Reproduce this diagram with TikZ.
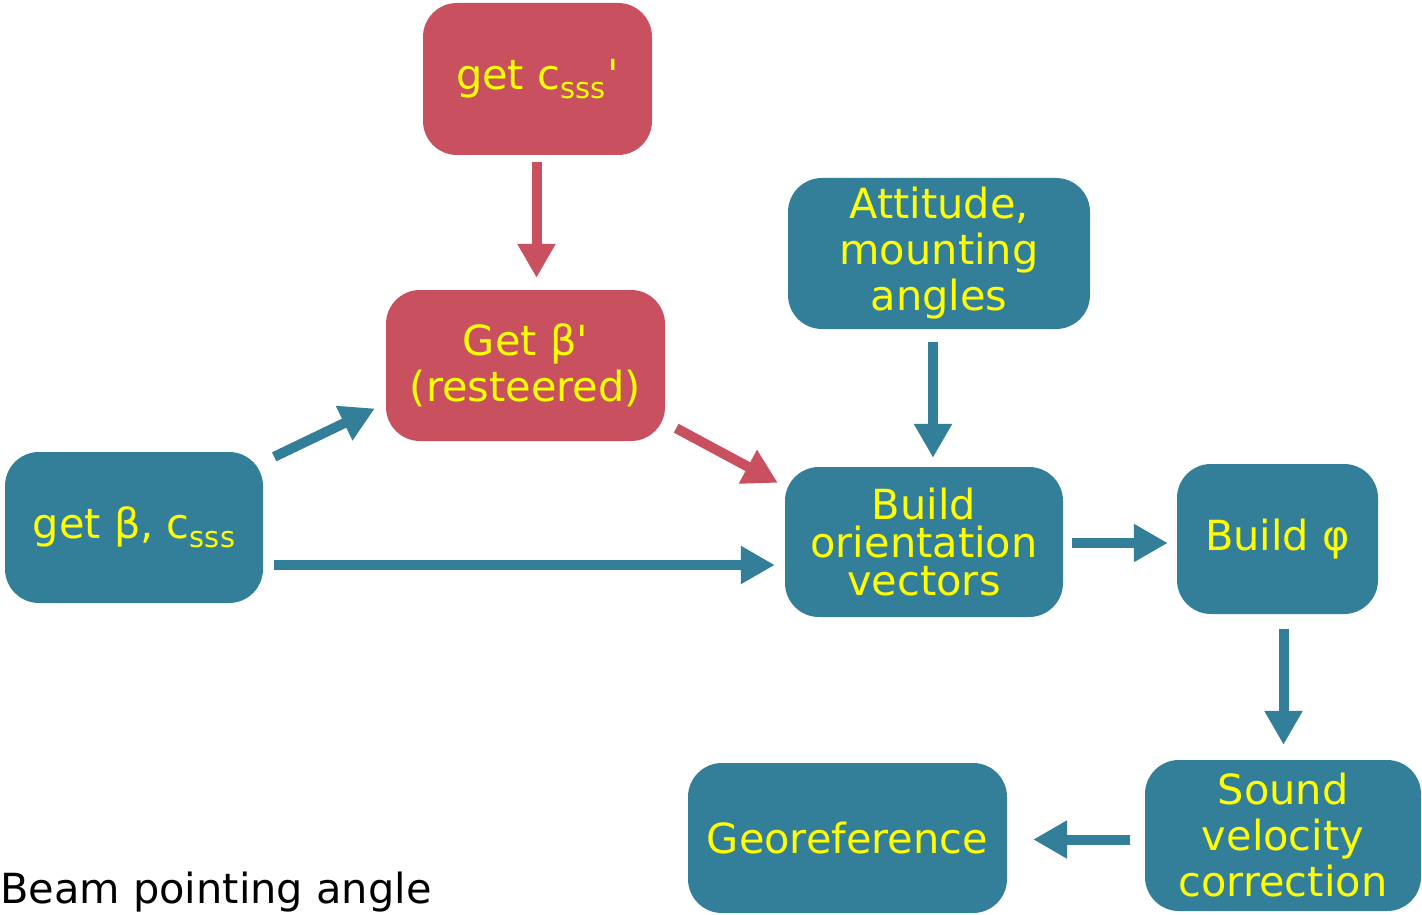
\documentclass[tikz,border=0pt]{standalone}
\usepackage{fontspec}
\setmainfont{DejaVu Sans}
\usetikzlibrary{arrows.meta,calc}
\definecolor{boxred}{HTML}{C8505F}
\definecolor{boxteal}{HTML}{337E99}
\definecolor{txtyellow}{HTML}{FFFF00}
\newcommand\mysub[1]{\raisebox{-9pt}{\fontsize{29}{29}\selectfont #1}}
\tikzset{
  box/.style={rounded corners=34pt, inner sep=0pt, text=txtyellow, align=center,
    font=\fontsize{41.5}{46}\selectfont},
  redbox/.style={box, fill=boxred},
  tealbox/.style={box, fill=boxteal},
  conn/.style={line width=10pt, -{Triangle[width=36pt,length=34pt]}},
  redconn/.style={conn, draw=boxred},
  tealconn/.style={conn, draw=boxteal},
}
\begin{document}
\begin{tikzpicture}[x=1pt,y=-1pt]
\useasboundingbox (0,0) rectangle (1422,915);
\node[redbox, minimum width=229pt, minimum height=152pt] (csss) at (537.5,79) {get c\mysub{sss}\kern2pt\textquotesingle};
\node[redbox, minimum width=279pt, minimum height=151pt] (betap) at (525.5,365.5) {Get β\textquotesingle\\(resteered)};
\node[tealbox, minimum width=302pt, minimum height=151pt] (att) at (939,253.5) {Attitude,\\mounting\\angles};
\node[tealbox, minimum width=258pt, minimum height=151pt] (getb) at (134,527.5) {get β, c\mysub{sss}};
\node[tealbox, minimum width=278pt, minimum height=150pt, font=\fontsize{41.5}{38}\selectfont] (orient) at (924,542) {Build\\orientation\\vectors};
\node[tealbox, minimum width=201pt, minimum height=150pt] (phi) at (1277.5,539) {Build φ};
\node[tealbox, minimum width=276pt, minimum height=151pt] (svc) at (1283,835.5) {Sound\\velocity\\correction};
\node[tealbox, minimum width=319pt, minimum height=150pt] (geo) at (847.5,838) {Georeference};
\node[anchor=base west, inner sep=0pt, font=\fontsize{41.5}{46}\selectfont] (label) at (0,903) {Beam pointing angle};

\draw[redconn] ($(csss.south)+(-1,7)$) -- ($(csss.south |- betap.north)+(-1,-12)$);
\draw[redconn] ($(betap.south east)+(11,-13)$) -- ($(orient.north west)+(-7,16)$);
\draw[tealconn] ($(getb.north east)+(11,5)$) -- ($(betap.west)+(-11,43)$);
\draw[tealconn] ($(getb.east)+(11,37.5)$) -- ($(orient.west)+(-10,23)$);
\draw[tealconn] ($(att.south)+(-6,13)$) -- ($(att.south |- orient.north)+(-6,-9)$);
\draw[tealconn] ($(orient.east)+(9,1)$) -- ($(phi.west)+(-9,4)$);
\draw[tealconn] ($(phi.south)+(6,15)$) -- ($(phi.south |- svc.north)+(6,-15)$);
\draw[tealconn] ($(svc.west)+(-15,4)$) -- ($(geo.east)+(26,1.5)$);
\end{tikzpicture}
\end{document}
